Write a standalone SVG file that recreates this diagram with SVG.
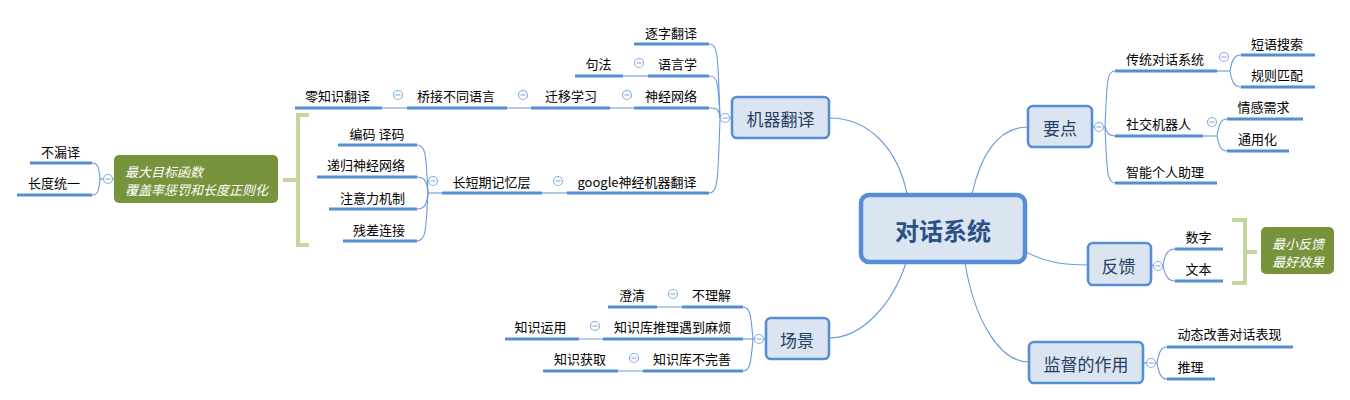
<svg xmlns="http://www.w3.org/2000/svg" width="1350" height="400" viewBox="0 0 1350 400">
<style>
.ul{stroke:#558ED5;stroke-width:3;fill:none}
.cn{stroke:#6A9AD8;stroke-width:1.1;fill:none}
.box{fill:#DBE5F1;stroke:#558ED5;stroke-width:2.6}
.t{font-family:"Microsoft YaHei","Noto Sans CJK SC","Noto Sans",sans-serif;font-size:13px;fill:#000;text-anchor:middle;dominant-baseline:central}
.mt{font-family:"Microsoft YaHei","Noto Sans CJK SC","Noto Sans",sans-serif;font-size:17px;fill:#243F60;text-anchor:middle;dominant-baseline:central}
.st{font-family:"Microsoft YaHei","Noto Sans CJK SC","Noto Sans",sans-serif;font-size:13px;fill:#fff;font-style:italic;dominant-baseline:central}
.br{stroke:#C4D79B;stroke-width:4;fill:none}
.sum{fill:#77933C}
</style>
<defs>
<g id="c"><circle r="4.5" fill="#fff" stroke="#8DB0E0" stroke-width="1.2"/><path d="M-2.5,0 H2.5" stroke="#8DB0E0" stroke-width="1.2"/></g>
</defs>

<g id="connectors">
<path class="cn" d="M829,118 C870,118 898,150 907,194"/>
<path class="cn" d="M972,194 C982,150 1000,127 1028,127"/>
<path class="cn" d="M1026,252 C1045,262 1062,265 1088,265"/>
<path class="cn" d="M906,263 C892,305 862,338 829,338"/>
<path class="cn" d="M965,263 C975,322 1000,362 1029,362"/>
<path class="cn" d="M732,118 H720"/>
<path class="cn" d="M720,118 C718,55 718,44 709,44"/>
<path class="cn" d="M720,118 C718,82 718,76 709,76"/>
<path class="cn" d="M720,118 C719,108 716,108 709,108"/>
<path class="cn" d="M720,118 C718,180 718,193 709,193"/>
<path class="cn" d="M623,76 H648"/>
<path class="cn" d="M610,108 H634 M507,108 H531 M382,108 H407"/>
<path class="cn" d="M542,193 H567"/>
<path class="cn" d="M442,193 H428"/>
<path class="cn" d="M428,193 C426,155 426,145 417,145"/>
<path class="cn" d="M428,193 C427,182 425,177 417,177"/>
<path class="cn" d="M428,193 C427,204 425,209 417,209"/>
<path class="cn" d="M428,193 C426,230 426,241 417,241"/>
<path class="cn" d="M114,179 H100"/>
<path class="cn" d="M100,179 C99,168 98,163 92,163"/>
<path class="cn" d="M100,179 C99,190 98,195 92,195"/>
<path class="cn" d="M1092,127 H1105"/>
<path class="cn" d="M1105,127 C1107,80 1107,71 1115,71"/>
<path class="cn" d="M1105,127 C1107,133 1109,136 1115,136"/>
<path class="cn" d="M1105,127 C1107,172 1107,183 1115,183"/>
<path class="cn" d="M1217,71 H1230"/>
<path class="cn" d="M1230,71 C1232,60 1234,55 1241,55"/>
<path class="cn" d="M1230,71 C1232,82 1234,87 1241,87"/>
<path class="cn" d="M1203,136 H1217"/>
<path class="cn" d="M1217,136 C1219,124 1221,119 1227,119"/>
<path class="cn" d="M1217,136 C1219,146 1221,151 1227,151"/>
<path class="cn" d="M1151,265 H1163"/>
<path class="cn" d="M1163,265 C1165,254 1168,249 1175,249"/>
<path class="cn" d="M1163,265 C1165,276 1168,281 1175,281"/>
<path class="cn" d="M766,339 H753"/>
<path class="cn" d="M753,339 C751,315 750,307 743,307"/>
<path class="cn" d="M753,339 H743"/>
<path class="cn" d="M753,339 C751,363 750,371 743,371"/>
<path class="cn" d="M657,307 H682 M579,339 H603 M618,371 H643"/>
<path class="cn" d="M1143,363 H1157"/>
<path class="cn" d="M1157,363 C1159,352 1161,347 1167,347"/>
<path class="cn" d="M1157,363 C1159,374 1161,379 1167,379"/>
</g>

<g id="center">
<rect x="861" y="195" width="164" height="67" rx="8" fill="#DBE5F1" stroke="#558ED5" stroke-width="4.5"/>
<text x="943" y="229" font-family="'Microsoft YaHei','Noto Sans CJK SC',sans-serif" font-size="24" font-weight="bold" fill="#2B4F86" text-anchor="middle" dominant-baseline="central">对话系统</text>
</g>

<g id="n-jiqifanyi">
<rect class="box" x="732" y="97" width="97" height="41" rx="5"/>
<text class="mt" x="780.5" y="118">机器翻译</text>
<use href="#c" x="725" y="118"/>
</g>
<g id="n-zhudifanyi"><path class="ul" d="M634,44 H709"/><text class="t" x="671" y="32">逐字翻译</text></g>
<g id="n-yuyanxue"><path class="ul" d="M648,76 H709"/><text class="t" x="677.5" y="63">语言学</text><use href="#c" x="639" y="63"/></g>
<g id="n-jufa"><path class="ul" d="M575,76 H623"/><text class="t" x="598.5" y="63">句法</text></g>
<g id="n-shenjing"><path class="ul" d="M634,108 H709"/><text class="t" x="671" y="95">神经网络</text><use href="#c" x="627" y="95"/></g>
<g id="n-qianyi"><path class="ul" d="M531,108 H610"/><text class="t" x="571" y="95">迁移学习</text><use href="#c" x="523" y="95"/></g>
<g id="n-qiaojie"><path class="ul" d="M407,108 H507"/><text class="t" x="456" y="95">桥接不同语言</text><use href="#c" x="398" y="95"/></g>
<g id="n-lingzhishi"><path class="ul" d="M295,108 H382"/><text class="t" x="337.5" y="95">零知识翻译</text></g>
<g id="n-google"><path class="ul" d="M567,193 H709"/><text class="t" x="637" y="181">google神经机器翻译</text><use href="#c" x="558" y="181"/></g>
<g id="n-lstm"><path class="ul" d="M442,193 H542"/><text class="t" x="491.5" y="181">长短期记忆层</text><use href="#c" x="433" y="181"/></g>
<g id="n-bianma"><path class="ul" d="M338,145 H417"/><text class="t" x="377" y="133">编码 译码</text></g>
<g id="n-digui"><path class="ul" d="M317,177 H417"/><text class="t" x="366" y="164">递归神经网络</text></g>
<g id="n-zhuyili"><path class="ul" d="M329,209 H417"/><text class="t" x="372.5" y="197">注意力机制</text></g>
<g id="n-cancha"><path class="ul" d="M343,241 H417"/><text class="t" x="379" y="229">残差连接</text></g>

<g id="summary-left">
<path class="br" d="M309,115 H298 V245 H309 M298,180 H283"/>
<rect class="sum" x="114" y="155" width="164" height="48" rx="5"/>
<text class="st" x="125" y="171">最大目标函数</text>
<text class="st" x="125" y="189">覆盖率惩罚和长度正则化</text>
<use href="#c" x="108" y="179"/>
</g>
<g id="n-bulouyi"><path class="ul" d="M30,163 H92"/><text class="t" x="60.5" y="151">不漏译</text></g>
<g id="n-changdu"><path class="ul" d="M17,195 H92"/><text class="t" x="54" y="182">长度统一</text></g>

<g id="n-yaodian">
<rect class="box" x="1028" y="106" width="64" height="41" rx="5"/>
<text class="mt" x="1060" y="127">要点</text>
<use href="#c" x="1099" y="127"/>
</g>
<g id="n-chuantong"><path class="ul" d="M1115,71 H1217"/><text class="t" x="1165" y="58">传统对话系统</text><use href="#c" x="1224" y="57"/></g>
<g id="n-duanyu"><path class="ul" d="M1241,55 H1315"/><text class="t" x="1277" y="43">短语搜索</text></g>
<g id="n-guize"><path class="ul" d="M1241,87 H1315"/><text class="t" x="1277" y="74">规则匹配</text></g>
<g id="n-shejiao"><path class="ul" d="M1115,136 H1203"/><text class="t" x="1158.5" y="123">社交机器人</text><use href="#c" x="1212" y="122"/></g>
<g id="n-qinggan"><path class="ul" d="M1227,119 H1303"/><text class="t" x="1263.5" y="106">情感需求</text></g>
<g id="n-tongyong"><path class="ul" d="M1227,151 H1289"/><text class="t" x="1257.5" y="138">通用化</text></g>
<g id="n-zhineng"><path class="ul" d="M1115,183 H1217"/><text class="t" x="1165" y="171">智能个人助理</text></g>

<g id="n-fankui">
<rect class="box" x="1088" y="243" width="63" height="42" rx="5"/>
<text class="mt" x="1118.5" y="265">反馈</text>
<use href="#c" x="1158" y="266"/>
</g>
<g id="n-shuzi"><path class="ul" d="M1175,249 H1223"/><text class="t" x="1198.5" y="236">数字</text></g>
<g id="n-wenben"><path class="ul" d="M1175,281 H1223"/><text class="t" x="1198.5" y="268">文本</text></g>
<g id="summary-right">
<path class="br" d="M1232,220 H1245 V283 H1232 M1245,252 H1257"/>
<rect class="sum" x="1261" y="227" width="73" height="47" rx="5"/>
<text class="st" x="1298" y="243" text-anchor="middle">最小反馈</text>
<text class="st" x="1298" y="261" text-anchor="middle">最好效果</text>
</g>

<g id="n-changjing">
<rect class="box" x="766" y="318" width="63" height="41" rx="5"/>
<text class="mt" x="797" y="339">场景</text>
<use href="#c" x="759" y="339"/>
</g>
<g id="n-bulijie"><path class="ul" d="M682,307 H743"/><text class="t" x="711.5" y="294">不理解</text><use href="#c" x="673" y="294"/></g>
<g id="n-chengqing"><path class="ul" d="M608,307 H657"/><text class="t" x="632" y="294">澄清</text></g>
<g id="n-tuili-mafan"><path class="ul" d="M603,339 H743"/><text class="t" x="672.5" y="326">知识库推理遇到麻烦</text><use href="#c" x="595" y="326"/></g>
<g id="n-yunyong"><path class="ul" d="M505,339 H579"/><text class="t" x="540.5" y="326">知识运用</text></g>
<g id="n-buwanshan"><path class="ul" d="M643,371 H743"/><text class="t" x="692" y="358">知识库不完善</text><use href="#c" x="634" y="358"/></g>
<g id="n-huoqu"><path class="ul" d="M543,371 H618"/><text class="t" x="580" y="358">知识获取</text></g>

<g id="n-jiandu">
<rect class="box" x="1029" y="342" width="114" height="41" rx="5"/>
<text class="mt" x="1086" y="363">监督的作用</text>
<use href="#c" x="1151" y="363"/>
</g>
<g id="n-dongtai"><path class="ul" d="M1167,347 H1293"/><text class="t" x="1229.5" y="333">动态改善对话表现</text></g>
<g id="n-tuili"><path class="ul" d="M1167,379 H1215"/><text class="t" x="1190.5" y="366">推理</text></g>
</svg>
